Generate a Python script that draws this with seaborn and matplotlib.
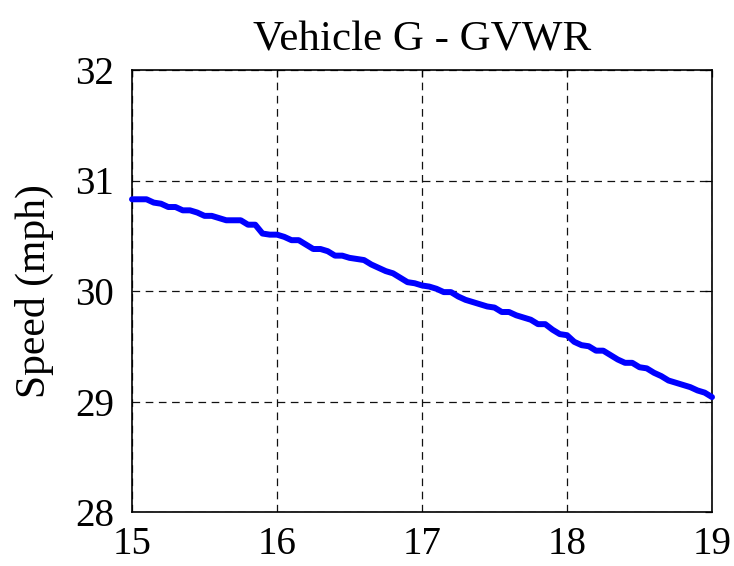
import matplotlib
matplotlib.use("Agg")
import matplotlib.pyplot as plt
import seaborn as sns
import pandas as pd

# Position along the run and recorded speed
position = [
    15.00, 15.05, 15.10, 15.15, 15.20, 15.25, 15.30, 15.35, 15.40, 15.45,
    15.50, 15.55, 15.60, 15.65, 15.70, 15.75, 15.80, 15.85, 15.90, 15.95,
    16.00, 16.05, 16.10, 16.15, 16.20, 16.25, 16.30, 16.35, 16.40, 16.45,
    16.50, 16.55, 16.60, 16.65, 16.70, 16.75, 16.80, 16.85, 16.90, 16.95,
    17.00, 17.05, 17.10, 17.15, 17.20, 17.25, 17.30, 17.35, 17.40, 17.45,
    17.50, 17.55, 17.60, 17.65, 17.70, 17.75, 17.80, 17.85, 17.90, 17.95,
    18.00, 18.05, 18.10, 18.15, 18.20, 18.25, 18.30, 18.35, 18.40, 18.45,
    18.50, 18.55, 18.60, 18.65, 18.70, 18.75, 18.80, 18.85, 18.90, 18.95,
    19.00,
]
speed_mph = [
    30.83, 30.83, 30.83, 30.80, 30.79, 30.76, 30.76, 30.73, 30.73, 30.71,
    30.68, 30.68, 30.66, 30.64, 30.64, 30.64, 30.60, 30.60, 30.52, 30.51,
    30.51, 30.49, 30.46, 30.46, 30.42, 30.38, 30.38, 30.36, 30.32, 30.32,
    30.30, 30.29, 30.28, 30.24, 30.21, 30.18, 30.16, 30.12, 30.08, 30.07,
    30.05, 30.04, 30.02, 29.99, 29.99, 29.95, 29.92, 29.90, 29.88, 29.86,
    29.85, 29.81, 29.81, 29.78, 29.76, 29.74, 29.70, 29.70, 29.65, 29.61,
    29.60, 29.54, 29.51, 29.50, 29.46, 29.46, 29.42, 29.38, 29.35, 29.35,
    29.31, 29.30, 29.26, 29.23, 29.19, 29.17, 29.15, 29.13, 29.10, 29.08,
    29.04,
]
x_ticks = [15, 16, 17, 18, 19]
y_ticks = [28, 29, 30, 31, 32]

sns.set_style("white")
plt.rcParams["font.family"] = ["Liberation Serif", "DejaVu Serif"]
plt.rcParams["lines.scale_dashes"] = False
plt.rcParams["text.color"] = "black"
plt.rcParams["axes.labelcolor"] = "black"

df = pd.DataFrame({"Position": position, "Speed": speed_mph})

fig = plt.figure(figsize=(7.34, 5.66), dpi=100)
ax = fig.add_axes([132 / 734, 1 - 512 / 566, 580 / 734, 442 / 566])

sns.lineplot(data=df, x="Position", y="Speed", ax=ax, color="#0000ff",
             linewidth=4.3, solid_joinstyle="round", solid_capstyle="round",
             zorder=3, clip_on=False)

ax.set_xlim(15, 19)
ax.set_ylim(28, 32)
ax.set_xticks(x_ticks)
ax.set_yticks(y_ticks)
ax.set_xticklabels([str(t) for t in x_ticks])
ax.set_yticklabels([str(t) for t in y_ticks])

ax.grid(True, color="#111111", linestyle=(0, (5.5, 4.0)), linewidth=0.9)
for s in ax.spines.values():
    s.set_color("black")
    s.set_linewidth(1.2)
    s.set_visible(True)

ax.tick_params(axis="both", which="major", direction="in", length=5,
               width=0.9, color="black", labelsize=28,
               top=True, right=True, labelcolor="black")
ax.tick_params(axis="x", pad=10)
ax.tick_params(axis="y", pad=13)

ax.set_xlabel("")
ax.set_ylabel("Speed (mph)", fontsize=30, labelpad=15, color="black")
ax.set_title("Vehicle G - GVWR", fontsize=31, pad=14, color="black")

fig.savefig("out.png", dpi=100)
